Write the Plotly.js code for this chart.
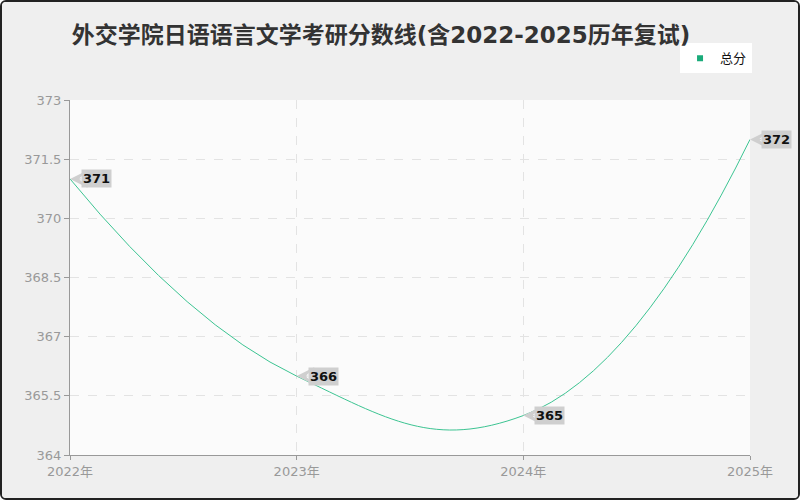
<!DOCTYPE html>
<html>
<head>
<meta charset="utf-8">
<script src="https://cdn.plot.ly/plotly-3.0.1.min.js"></script>
<style>
  html, body { margin: 0; padding: 0; background: #ffffff; }
  #chart { width: 796px; height: 496px; border: 2px solid #222; border-radius: 6px; overflow: hidden; }
</style>
</head>
<body>
<div id="chart"></div>
<script>
/* global Plotly */
const years = ['2022年', '2023年', '2024年', '2025年'];
const scores = [371, 366, 365, 372];
const yTicks = [364, 365.5, 367, 368.5, 370, 371.5, 373];
const seriesName = '总分';

const font = 'DejaVu Sans, "Noto Sans CJK SC", sans-serif';
const tagColor = '#cfcfcf';
const xIdx = years.map((_, i) => i);

// gray value tags: triangle head points at the data point, box sits right of it
const annotations = scores.map((v, i) => ({
  x: i,
  y: v,
  xref: 'x',
  yref: 'y',
  text: `<b>${v}</b>`,
  showarrow: true,
  arrowhead: 3,
  arrowwidth: 1,
  arrowsize: 3,
  arrowcolor: tagColor,
  standoff: 0,
  ax: 11,
  ay: 0,
  xanchor: 'left',
  bgcolor: tagColor,
  borderpad: 1,
  font: { family: font, size: 13, color: '#111' },
}));

Plotly.newPlot('chart', [{
  x: xIdx,
  y: scores,
  type: 'scatter',
  mode: 'lines',
  name: seriesName,
  showlegend: false,
  line: { shape: 'spline', smoothing: 1.3, color: '#3cc492', width: 1 },
  cliponaxis: false,
}, {
  // legend entry only
  x: [null],
  y: [null],
  type: 'scatter',
  mode: 'markers',
  name: seriesName,
  marker: { symbol: 'square', size: 6, color: '#1aab7a' },
}], {
  width: 796,
  height: 496,
  margin: { l: 68, r: 48, t: 98, b: 43 },
  paper_bgcolor: '#efefef',
  plot_bgcolor: '#fbfbfb',
  font: { family: font },
  title: {
    text: '<b>外交学院日语语言文学考研分数线(含2022-2025历年复试)</b>',
    x: 0.0875,
    xanchor: 'left',
    y: 0.95,
    font: { family: font, size: 23, color: '#333' },
  },
  showlegend: true,
  legend: {
    x: 1.003,
    xanchor: 'right',
    y: 1.16,
    yanchor: 'top',
    bgcolor: '#ffffff',
    font: { family: font, size: 13, color: '#111' },
    itemwidth: 30,
  },
  xaxis: {
    range: [0, 3],
    tickvals: xIdx,
    ticktext: years,
    showline: true,
    linecolor: '#999',
    ticks: 'outside',
    ticklen: 4,
    tickcolor: '#999',
    showgrid: true,
    gridcolor: '#e3e3e3',
    griddash: 'dash',
    zeroline: false,
    tickfont: { family: font, size: 13, color: '#999' },
  },
  yaxis: {
    range: [364, 373],
    tickvals: yTicks,
    ticktext: yTicks.map(String),
    showline: true,
    linecolor: '#999',
    ticks: 'outside',
    ticklen: 5,
    tickcolor: '#999',
    showgrid: true,
    gridcolor: '#e3e3e3',
    griddash: 'dash',
    zeroline: false,
    tickfont: { family: font, size: 13, color: '#999' },
  },
  annotations,
}, { displayModeBar: false });
</script>
</body>
</html>
